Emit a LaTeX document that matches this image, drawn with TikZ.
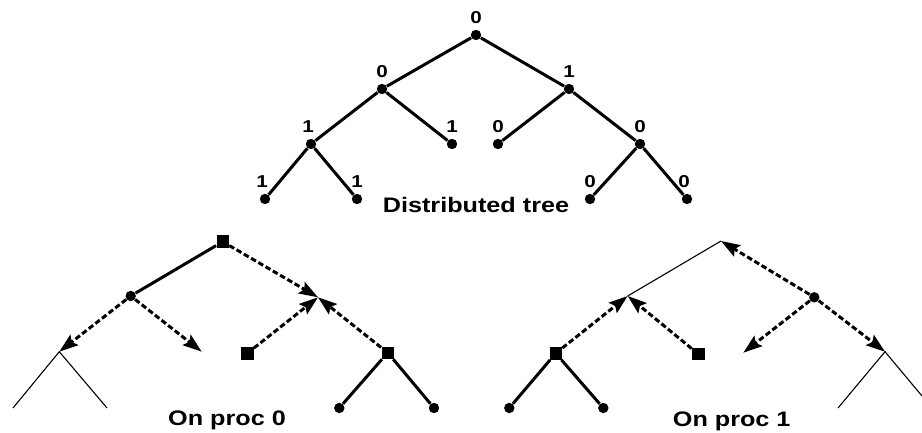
\documentclass[tikz,border=0pt]{standalone}
\usepackage{fontspec}
\newfontfamily\treefont[FakeStretch=1.2]{Liberation Sans}
\usetikzlibrary{arrows.meta}
\begin{document}
\begin{tikzpicture}[x=0.5pt,y=-0.5pt,
  dot/.style={circle,fill,inner sep=0pt,minimum size=5.2pt},
  sq/.style={rectangle,fill,inner sep=0pt,minimum size=6.2pt},
  treeedge/.style={line width=1.5pt},
  thinedge/.style={line width=0.55pt},
  msg/.style={line width=1.5pt,dash pattern=on 2.8pt off 1.4pt,
    -{Stealth[length=9.5pt,width=6.5pt,inset=1.6pt]}},
  num/.style={font=\treefont\bfseries\fontsize{8.6}{9}\selectfont,inner sep=0.5pt},
  caption/.style={font=\treefont\bfseries\fontsize{10.5}{12}\selectfont,
    anchor=base,inner sep=0pt},
  every label/.style={num},
  label distance=2.2pt]
\useasboundingbox (0,0) rectangle (922,433);

% ---- distributed tree with owner numbers ----
\node[dot,label=above:0] (t)    at (476,35)  {};
\node[dot,label=above:0] (tl)   at (382,89)  {};
\node[dot,label=above:1] (tr)   at (569,89)  {};
\node[dot,label={[xshift=-1.5pt]above:1}] (tll) at (311,144) {};
\node[dot,label=above:1] (tlr)  at (452,144) {};
\node[dot,label=above:0] (trl)  at (498,144) {};
\node[dot,label=above:0] (trr)  at (640,144) {};
\node[dot,label={[xshift=-1.5pt]above:1}] (tlll) at (265,199) {};
\node[dot,label=above:1] (tllr) at (357,199) {};
\node[dot,label=above:0] (trrl) at (590,199) {};
\node[dot,label={[xshift=-1.5pt]above:0}] (trrr) at (687,199) {};

\draw[treeedge] (t) -- (tl);
\draw[treeedge] (t) -- (tr);
\draw[treeedge] (tl) -- (tll);
\draw[treeedge] (tl) -- (tlr);
\draw[treeedge] (tr) -- (trl);
\draw[treeedge] (tr) -- (trr);
\draw[treeedge] (tll) -- (tlll);
\draw[treeedge] (tll) -- (tllr);
\draw[treeedge] (trr) -- (trrl);
\draw[treeedge] (trr) -- (trrr);

\node[caption] (cap) at (476,213) {Distributed tree};

% ---- local view on processor 0 ----
\node[sq]  (p0r) at (222.7,241.7) {};
\node[dot] (p0a) at (130.7,296) {};
\coordinate (p0b) at (318,297.3);
\coordinate (p0c) at (59.3,351.7);
\coordinate (p0d) at (201.7,351.7);
\node[sq]  (p0e) at (247.3,353.3) {};
\node[sq]  (p0f) at (387.7,352.7) {};
\node[dot] (p0g) at (339.3,408) {};
\node[dot] (p0h) at (434,408) {};
\coordinate (p0cl) at (13,408);
\coordinate (p0cr) at (107,408);

\draw[treeedge] (p0r) -- (p0a);
\draw[msg] (p0r) -- (p0b);
\draw[msg] (p0a) -- (p0c);
\draw[msg] (p0a) -- (p0d);
\draw[msg] (p0e) -- (p0b);
\draw[msg] (p0f) -- (p0b);
\draw[treeedge] (p0f) -- (p0g);
\draw[treeedge] (p0f) -- (p0h);
\draw[thinedge] (p0cl) -- (p0c) -- (p0cr);

\node[caption] (cap0) at (227,425) {On proc 0};

% ---- local view on processor 1 ----
\coordinate (p1r) at (721,241);
\coordinate (p1a) at (627.7,296);
\node[dot] (p1b) at (814.3,297.3) {};
\node[sq]  (p1s) at (555.7,353.3) {};
\node[sq]  (p1t) at (698.3,354) {};
\coordinate (p1d) at (743.3,352.7);
\coordinate (p1c) at (885,351.7);
\node[dot] (p1g) at (509.3,408) {};
\node[dot] (p1h) at (603.3,408) {};
\coordinate (p1cl) at (838,408);
\coordinate (p1cr) at (922,396);

\draw[thinedge] (p1r) -- (p1a);
\draw[msg] (p1b) -- (p1r);
\draw[msg] (p1s) -- (p1a);
\draw[msg] (p1t) -- (p1a);
\draw[msg] (p1b) -- (p1d);
\draw[msg] (p1b) -- (p1c);
\draw[treeedge] (p1s) -- (p1g);
\draw[treeedge] (p1s) -- (p1h);
\draw[thinedge] (p1cl) -- (p1c) -- (p1cr);

\node[caption] (cap1) at (731.7,426) {On proc 1};
\end{tikzpicture}
\end{document}
